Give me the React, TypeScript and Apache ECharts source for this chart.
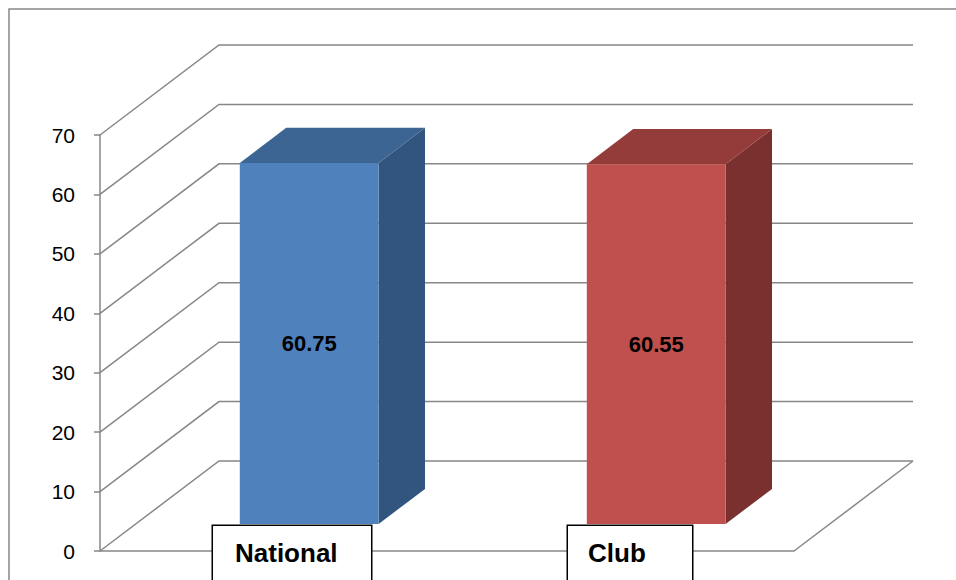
import React, { useEffect, useRef } from 'react';
import * as echarts from 'echarts';

// ---- data ----
const categories = ['National', 'Club'];
const values = [60.75, 60.55];
const yTicks = [0, 10, 20, 30, 40, 50, 60, 70];

// ---- styling ----
const frontColors = ['#4F81BD', '#C0504D'];
const topColors = ['#3D6593', '#943C3A'];
const sideColors = ['#32557F', '#7A302E'];
const GRID = '#878787';
const FONT = '"Liberation Sans", Arial, sans-serif';

// 3D depth offset (full depth of the floor)
const DX = 119;
const DY = -90;
const F1 = 0.3; // bar front plane
const F2 = 0.69; // bar back plane

const boxStyle = {
  backgroundColor: '#fff',
  borderColor: '#000',
  borderWidth: 1.5,
  fontSize: 26,
  fontWeight: 'bold' as const,
  fontFamily: FONT,
  color: '#000',
  align: 'left' as const,
};

export default function App() {
  const ref = useRef<HTMLDivElement>(null);

  useEffect(() => {
    const chart = echarts.init(ref.current!, null, { renderer: 'svg' });

    const option: any = {
      animation: false,
      backgroundColor: '#fff',
      graphic: [
        {
          type: 'rect',
          silent: true,
          shape: { x: 9, y: 9, width: 1000, height: 700 },
          style: { fill: 'none', stroke: GRID, lineWidth: 1.5 },
        },
      ],
      grid: {
        left: 100,
        right: 162,
        top: 135,
        bottom: 29,
        containLabel: false,
        outerBoundsMode: 'none',
      },
      xAxis: {
        type: 'category',
        data: categories,
        axisLine: { show: true, lineStyle: { color: GRID, width: 1.5 } },
        axisTick: { show: false },
        splitLine: { show: false },
        axisLabel: {
          interval: 0,
          margin: -25,
          align: 'center',
          hideOverlap: false,
          formatter: (val: string, idx: number) => `{sp${idx}|}{box${idx}|${val}}`,
          rich: {
            sp0: { width: 37, height: 10, align: 'left' },
            sp1: { width: 19, height: 10, align: 'left' },
            box0: { ...boxStyle, width: 136, padding: [14, 0, 40, 22] },
            box1: { ...boxStyle, width: 104, padding: [14, 0, 40, 20] },
          },
        },
      },
      yAxis: {
        type: 'value',
        min: 0,
        max: 70,
        interval: 10,
        axisLine: { show: true, lineStyle: { color: GRID, width: 1.5 } },
        axisTick: { show: true, length: 6, lineStyle: { color: GRID, width: 1.5 } },
        splitLine: { show: false },
        axisLabel: { fontSize: 21, color: '#000', margin: 25, fontFamily: FONT },
      },
      series: [
        {
          type: 'custom',
          name: 'walls',
          clip: false,
          silent: true,
          z: 1,
          encode: { x: 0, y: 1 },
          data: yTicks.map((v) => [0, v]),
          renderItem: (params: any, api: any) => {
            const cs = params.coordSys;
            const v = api.value(1);
            const y = api.coord([0, v])[1];
            const x0 = cs.x;
            const x1 = cs.x + cs.width;
            const children: any[] = [
              {
                type: 'polyline',
                shape: { points: [[x0, y], [x0 + DX, y + DY], [x1 + DX, y + DY]] },
                style: { fill: 'none', stroke: GRID, lineWidth: 1.5 },
              },
            ];
            if (v === 0) {
              children.push({
                type: 'line',
                shape: { x1: x1, y1: y, x2: x1 + DX, y2: y + DY },
                style: { stroke: GRID, lineWidth: 1.5 },
              });
            }
            return { type: 'group', children };
          },
        },
        {
          type: 'custom',
          name: 'bars',
          clip: false,
          z: 3,
          encode: { x: 0, y: 1 },
          data: values.map((v, i) => [i, v]),
          renderItem: (params: any, api: any) => {
            const i = params.dataIndex;
            const v = api.value(1);
            const [cx, yTop0] = api.coord([i, v]);
            const yBase0 = api.coord([i, 0])[1];
            const bw = api.size([1, 0])[0] * 0.4;
            const xl = cx - bw / 2 + F1 * DX;
            const xr = cx + bw / 2 + F1 * DX;
            const yt = yTop0 + F1 * DY;
            const yb = yBase0 + F1 * DY;
            const ddx = (F2 - F1) * DX;
            const ddy = (F2 - F1) * DY;
            return {
              type: 'group',
              children: [
                {
                  type: 'polygon',
                  shape: { points: [[xr, yt], [xr + ddx, yt + ddy], [xr + ddx, yb + ddy], [xr, yb]] },
                  style: { fill: sideColors[i] },
                },
                {
                  type: 'polygon',
                  shape: { points: [[xl, yt], [xr, yt], [xr + ddx, yt + ddy], [xl + ddx, yt + ddy]] },
                  style: { fill: topColors[i] },
                },
                {
                  type: 'rect',
                  shape: { x: xl, y: yt, width: xr - xl, height: yb - yt },
                  style: { fill: frontColors[i] },
                },
                {
                  type: 'text',
                  x: (xl + xr) / 2,
                  y: (yt + yb) / 2,
                  style: {
                    text: String(values[i]),
                    fill: '#000',
                    fontSize: 22,
                    fontWeight: 'bold',
                    fontFamily: FONT,
                    align: 'center',
                    verticalAlign: 'middle',
                  },
                },
              ],
            };
          },
        },
      ],
    };

    chart.setOption(option);
    return () => chart.dispose();
  }, []);

  return (
    <div
      ref={ref}
      style={{ position: 'fixed', left: 0, top: 0, width: 956, height: 580 }}
    />
  );
}
